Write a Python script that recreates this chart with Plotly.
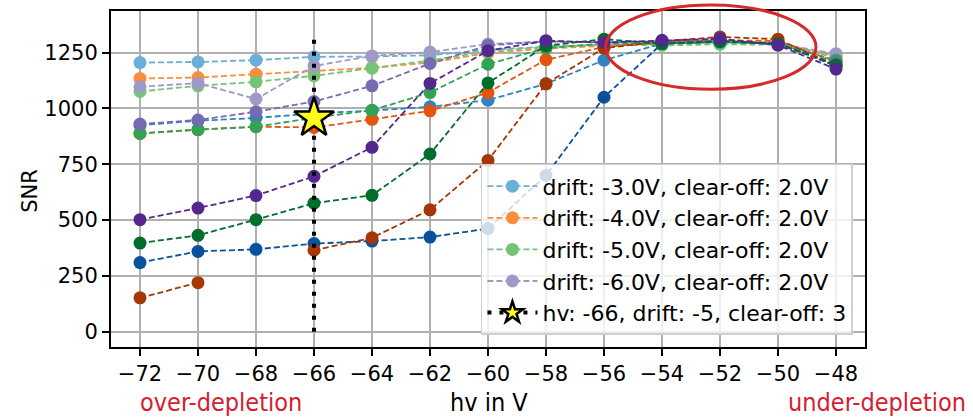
import plotly.graph_objects as go

# ---- data ----
hv = [-72, -70, -68, -66, -64, -62, -60, -58, -56, -54, -52, -50, -48]

# clear-off 2.0 V (light)
snr_d3_c2 = [1205, 1208, 1216, 1231, 1232, 1238, 1262, 1276, 1285, 1290, 1295, 1290, 1235]
snr_d4_c2 = [1134, 1138, 1153, 1168, 1182, 1205, 1248, 1268, 1280, 1292, 1300, 1296, 1225]
snr_d5_c2 = [1076, 1101, 1119, 1146, 1180, 1215, 1255, 1275, 1285, 1282, 1287, 1285, 1240]
snr_d6_c2 = [1097, 1113, 1042, 1190, 1235, 1252, 1288, 1300, 1295, 1300, 1305, 1290, 1245]
# clear-off 3.0 V (medium)
snr_d3_c3 = [925, 945, 957, 978, 990, 1007, 1037, 1110, 1216, 1290, 1300, 1290, 1200]
snr_d4_c3 = [888, 905, 918, 915, 951, 989, 1071, 1218, 1275, 1295, 1305, 1302, 1210]
snr_d5_c3 = [888, 905, 918, 958, 992, 1071, 1198, 1270, 1290, 1290, 1295, 1290, 1215]
snr_d6_c3 = [930, 948, 985, 1031, 1101, 1201, 1282, 1300, 1295, 1300, 1305, 1285, 1205]
# clear-off 4.0 V (dark)
snr_d3_c4 = [310, 360, 369, 395, 406, 424, 462, 700, 1050, 1290, 1300, 1290, 1190]
snr_d4_c4 = [152, 220, None, 365, 421, 546, 767, 1110, 1270, 1300, 1320, 1310, 1190]
snr_d5_c4 = [397, 432, 502, 576, 611, 796, 1114, 1280, 1310, 1290, 1300, 1290, 1195]
snr_d6_c4 = [502, 554, 610, 696, 826, 1112, 1258, 1303, 1295, 1305, 1312, 1283, 1176]

star_hv = [-66]
star_snr = [957]
vline_hv = [-66, -66]
vline_snr = [0, 1325]

legend_names = ["drift: -3.0V, clear-off: 2.0V", "drift: -4.0V, clear-off: 2.0V",
                "drift: -5.0V, clear-off: 2.0V", "drift: -6.0V, clear-off: 2.0V"]
star_name = "hv: -66, drift: -5, clear-off: 3"

x_ticks = [-72, -70, -68, -66, -64, -62, -60, -58, -56, -54, -52, -50, -48]
y_ticks = [0, 250, 500, 750, 1000, 1250]

light = ["#6baed6", "#fd8d3c", "#74c476", "#9e9ac8"]
medium = ["#3182bd", "#e6550d", "#31a354", "#756bb1"]
dark = ["#08519c", "#a63603", "#006d2c", "#54278f"]

groups = [
    ([snr_d3_c2, snr_d4_c2, snr_d5_c2, snr_d6_c2], light, True),
    ([snr_d3_c3, snr_d4_c3, snr_d5_c3, snr_d6_c3], medium, False),
    ([snr_d3_c4, snr_d4_c4, snr_d5_c4, snr_d6_c4], dark, False),
]

fig = go.Figure()
for series, cols, show in groups:
    for i, (vals, c) in enumerate(zip(series, cols)):
        fig.add_trace(go.Scatter(
            x=hv, y=vals, mode="lines+markers",
            name=legend_names[i] if show else "",
            showlegend=show,
            line=dict(color=c, width=1.8, dash="6px,3px"),
            marker=dict(color=c, size=13, line=dict(width=0)),
            connectgaps=False,
        ))

fig.add_trace(go.Scatter(
    x=vline_hv, y=vline_snr, mode="lines", showlegend=False,
    line=dict(color="black", width=4, dash="4px,8px"),
))
fig.add_trace(go.Scatter(
    x=star_hv, y=star_snr, mode="lines+markers", name=star_name,
    line=dict(color="black", width=4, dash="4px,8px"),
    marker=dict(symbol="star", size=30, color="#ffff1a", line=dict(color="black", width=2.5)),
))

fig.add_shape(type="circle", xref="paper", yref="paper",
              x0=0.656, x1=0.935, y0=0.767, y1=1.018,
              line=dict(color="#d42a2a", width=3), layer="above")

tfont = dict(family="DejaVu Sans Condensed, Liberation Sans Narrow, DejaVu Sans", size=25)
fig.add_annotation(text="over-depletion", xref="paper", yref="paper", x=(221 - 111) / 754, y=(347 - 403) / 337.7,
                   showarrow=False, font=dict(tfont, color="#d3202f"), xanchor="center", yanchor="middle")
fig.add_annotation(text="under-depletion", xref="paper", yref="paper", x=(877 - 111) / 754, y=(347 - 403) / 337.7,
                   showarrow=False, font=dict(tfont, color="#d3202f"), xanchor="center", yanchor="middle")
fig.add_annotation(text="hv in V", xref="paper", yref="paper", x=(489 - 111) / 754, y=(347 - 403) / 337.7,
                   showarrow=False, font=dict(tfont, color="black"), xanchor="center", yanchor="middle")
fig.add_annotation(text="SNR", xref="paper", yref="paper", x=(30 - 111) / 754, y=(347 - 190) / 337.7,
                   showarrow=False, textangle=-90, font=dict(family="DejaVu Sans", size=21, color="black"),
                   xanchor="center", yanchor="middle")

axis_common = dict(showgrid=True, gridcolor="#b0b0b0", gridwidth=1.5,
                   showline=True, linecolor="black", linewidth=2, mirror=True,
                   ticks="outside", ticklen=7, tickwidth=1.5, tickcolor="black",
                   tickfont=dict(family="DejaVu Sans", size=21, color="black"),
                   zeroline=False)

fig.update_xaxes(range=[-73, -47], tickvals=x_ticks, **axis_common)
fig.update_yaxes(range=[-68, 1436], tickvals=y_ticks, **axis_common)

fig.update_layout(
    width=973, height=417,
    margin=dict(l=111, r=108, t=9, b=70),
    plot_bgcolor="white", paper_bgcolor="white",
    font=dict(family="DejaVu Sans", color="black"),
    legend=dict(x=0.984, y=0.036, xanchor="right", yanchor="bottom",
                bgcolor="rgba(255,255,255,0.8)", bordercolor="#d0d0d0", borderwidth=1.5,
                font=dict(family="DejaVu Sans", size=22, color="black"),
                itemwidth=50),
    showlegend=True,
)

fig.write_html("out.html")
